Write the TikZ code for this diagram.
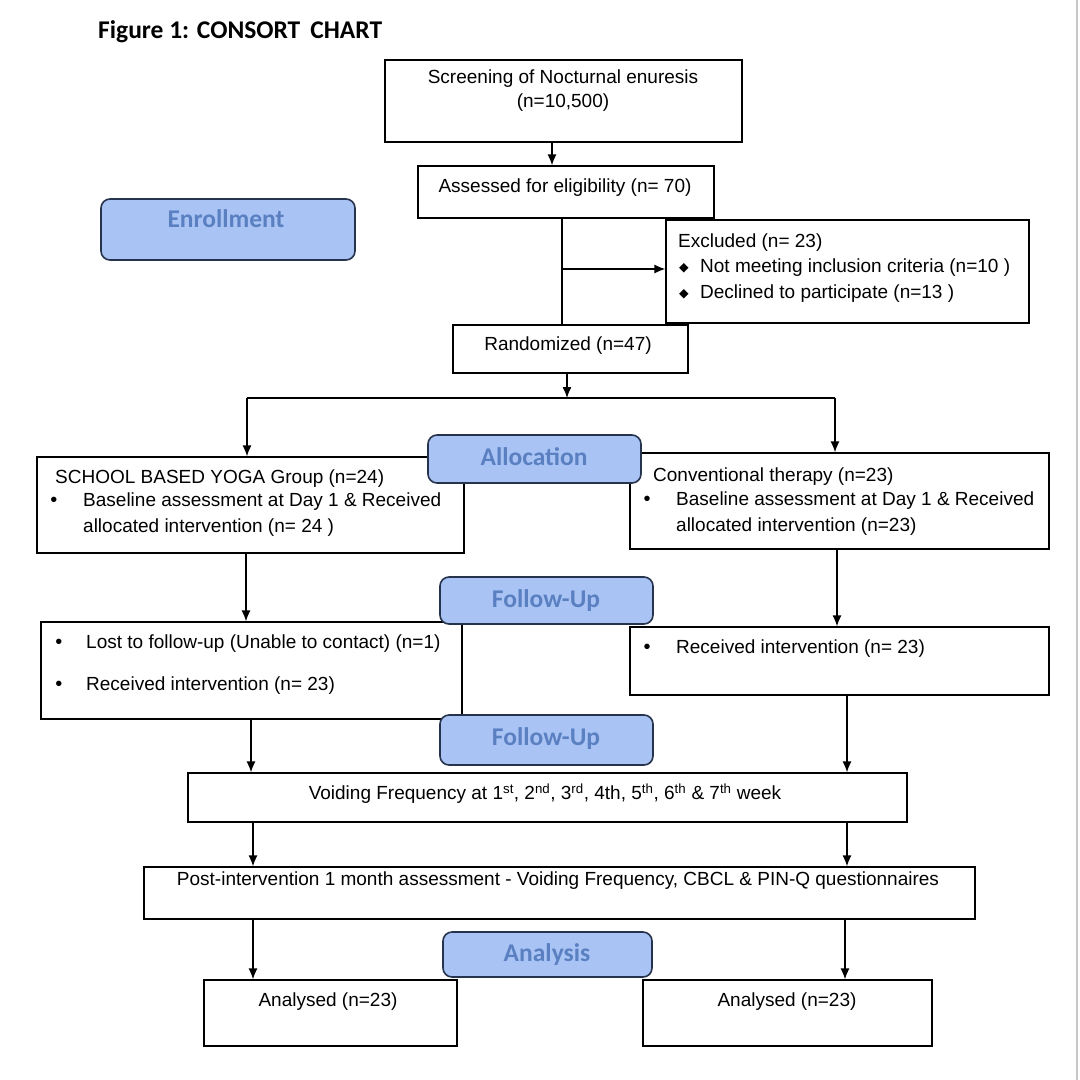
\documentclass[tikz,border=0pt]{standalone}
\usepackage{fontspec}
\setmainfont{Liberation Sans}
\newfontfamily\calb{Carlito}
\newfontfamily\dejavu{DejaVu Sans}
\usetikzlibrary{arrows.meta,fit,calc}
\definecolor{lblfill}{HTML}{A9C4F4}
\definecolor{lbltext}{HTML}{5A80C2}
\definecolor{lbldraw}{HTML}{26334D}
\begin{document}
\begin{tikzpicture}[x=1pt,y=-1pt,
 box/.style={draw=black,line width=1.3pt,inner sep=0pt,fill=white},
 lbl/.style={draw=lbldraw,line width=1.6pt,fill=lblfill,rounded corners=9pt,inner sep=0pt},
 lbltxt/.style={inner sep=0pt,text=lbltext,font=\calb\bfseries\fontsize{25.5}{29}\selectfont},
 txt/.style={inner sep=0pt,font=\fontsize{19}{24}\selectfont},
 ltxt/.style={txt,anchor=west},
 bul/.style={inner sep=0pt,font=\fontsize{20}{22}\selectfont},
 dbul/.style={inner sep=0pt,font=\dejavu\fontsize{12.5}{14}\selectfont},
 arr/.style={line width=1.3pt,-{Latex[length=11pt,width=9pt]}},
 ln/.style={line width=1.3pt}]
\useasboundingbox (0,0) rectangle (1080,1080);
\fill[white] (0,0) rectangle (1080,1080);
\draw[black!22,line width=2pt] (1077,0) -- (1077,1080);

% column coordinates
\coordinate (x552) at (552,0);
\coordinate (x562) at (562,0);
\coordinate (x567) at (567,0);
\coordinate (xL) at (247,0);
\coordinate (xR) at (835,0);
\coordinate (xL2) at (251,0);
\coordinate (xR2) at (847,0);
\coordinate (xL3) at (253,0);
\coordinate (xR3) at (845,0);
\coordinate (x246) at (246,0);
\coordinate (x837) at (837,0);

% title
\node[inner sep=0pt,anchor=west,font=\calb\bfseries\fontsize{25.5}{29}\selectfont] (title) at (98,32) {Figure 1: CONSORT\, CHART};

% plain boxes
\node[box,fit={(385,60) (742,142)}] (scr) {};
\node[box,fit={(418,166) (714,218)}] (ass) {};
\node[box,fit={(666,220) (1029,323)}] (exc) {};
\node[box,fit={(453,325) (688,373)}] (ran) {};
\node[box,fit={(37,457) (464,553)}] (yoga) {};
\node[box,fit={(630,453) (1049,549)}] (conv) {};
\node[box,fit={(41,622) (462,719)}] (lost) {};
\node[box,fit={(630,627) (1049,695)}] (rec) {};
\node[box,fit={(188,773) (907,822)}] (void) {};
\node[box,fit={(144,867) (975,919)}] (post) {};
\node[box,fit={(204,980) (457,1046)}] (anl) {};
\node[box,fit={(643,980) (932,1046)}] (anr) {};

% stage labels
\node[lbl,fit={(101,199) (355,260)}] (enr) {};
\node[lbl,fit={(428,435) (641,483)}] (alloc) {};
\node[lbl,fit={(440,577) (653,624)}] (fu1) {};
\node[lbl,fit={(440,715) (653,765)}] (fu2) {};
\node[lbl,fit={(443,932) (652,977)}] (anal) {};
\node[lbltxt] (enrT) at (226,219) {Enrollment};
\node[lbltxt] (allocT) at (534,457) {Allocation};
\node[lbltxt] (fu1T) at (546,601) {Follow-Up};
\node[lbltxt] (fu2T) at (546,739) {Follow-Up};
\node[lbltxt] (analT) at (547,955) {Analysis};

% texts
\node[txt,align=center] (scrT) at (563,91) {Screening of Nocturnal enuresis\\(n=10,500)};
\node[txt] (assT) at (565,188) {Assessed for eligibility (n= 70)};
\node[ltxt] (excT) at (678,243) {Excluded (n= 23)};
\node[dbul] (eb1) at (684,268) {◆};
\node[ltxt] (excT1) at (700,268) {Not meeting inclusion criteria (n=10 )};
\node[dbul] (eb2) at (684,294) {◆};
\node[ltxt] (excT2) at (700,294) {Declined to participate (n=13 )};
\node[txt] (ranT) at (568,346) {Randomized (n=47)};

\node[ltxt] (yogaT) at (55,479) {SCHOOL BASED YOGA Group (n=24)};
\node[bul] (yb1) at (54,502) {•};
\node[ltxt] (yogaT1) at (83,502) {Baseline assessment at Day 1 \& Received};
\node[ltxt] (yogaT2) at (83,528) {allocated intervention (n= 24 )};

\node[ltxt] (convT) at (653,477) {Conventional therapy (n=23)};
\node[bul] (cb1) at (647,501) {•};
\node[ltxt] (convT1) at (676,501) {Baseline assessment at Day 1 \& Received};
\node[ltxt] (convT2) at (676,527) {allocated intervention (n=23)};

\node[bul] (lb1) at (59,644) {•};
\node[ltxt] (lostT1) at (86,644) {Lost to follow-up (Unable to contact) (n=1)};
\node[bul] (lb2) at (59,686) {•};
\node[ltxt] (lostT2) at (86,686) {Received intervention (n= 23)};

\node[bul] (rb1) at (647,649) {•};
\node[ltxt] (recT) at (676,649) {Received intervention (n= 23)};

\node[txt] (voidT) at (545,794) {Voiding Frequency at 1\textsuperscript{st}, 2\textsuperscript{nd}, 3\textsuperscript{rd}, 4th, 5\textsuperscript{th}, 6\textsuperscript{th} \& 7\textsuperscript{th} week};
\node[txt] (postT) at (558,881) {Post-intervention 1 month assessment - Voiding Frequency, CBCL \& PIN-Q questionnaires};
\node[txt] (anlT) at (328,1002) {Analysed (n=23)};
\node[txt] (anrT) at (787,1002) {Analysed (n=23)};

% connectors
\draw[arr] (scr.south -| x552) -- (ass.north -| x552);
\coordinate (j1) at (562,269);
\draw[ln] (ass.south -| x562) -- (ran.north -| x562);
\draw[arr] (j1) -- (exc.west |- j1);
\coordinate (split) at (567,398);
\draw[arr] (ran.south -| x567) -- (split);
\draw[ln] (split -| xL) -- (split -| xR);
\draw[arr] (split -| xL) -- (yoga.north -| xL);
\draw[arr] (split -| xR) -- (conv.north -| xR);
\draw[arr] (yoga.south -| x246) -- (lost.north -| x246);
\draw[arr] (conv.south -| x837) -- (rec.north -| x837);
\draw[arr] (lost.south -| xL2) -- (void.north -| xL2);
\draw[arr] (rec.south -| xR2) -- (void.north -| xR2);
\draw[arr] (void.south -| xL3) -- (post.north -| xL3);
\draw[arr] (void.south -| xR2) -- (post.north -| xR2);
\draw[arr] (post.south -| xL3) -- (anl.north -| xL3);
\draw[arr] (post.south -| xR3) -- (anr.north -| xR3);
\end{tikzpicture}
\end{document}
